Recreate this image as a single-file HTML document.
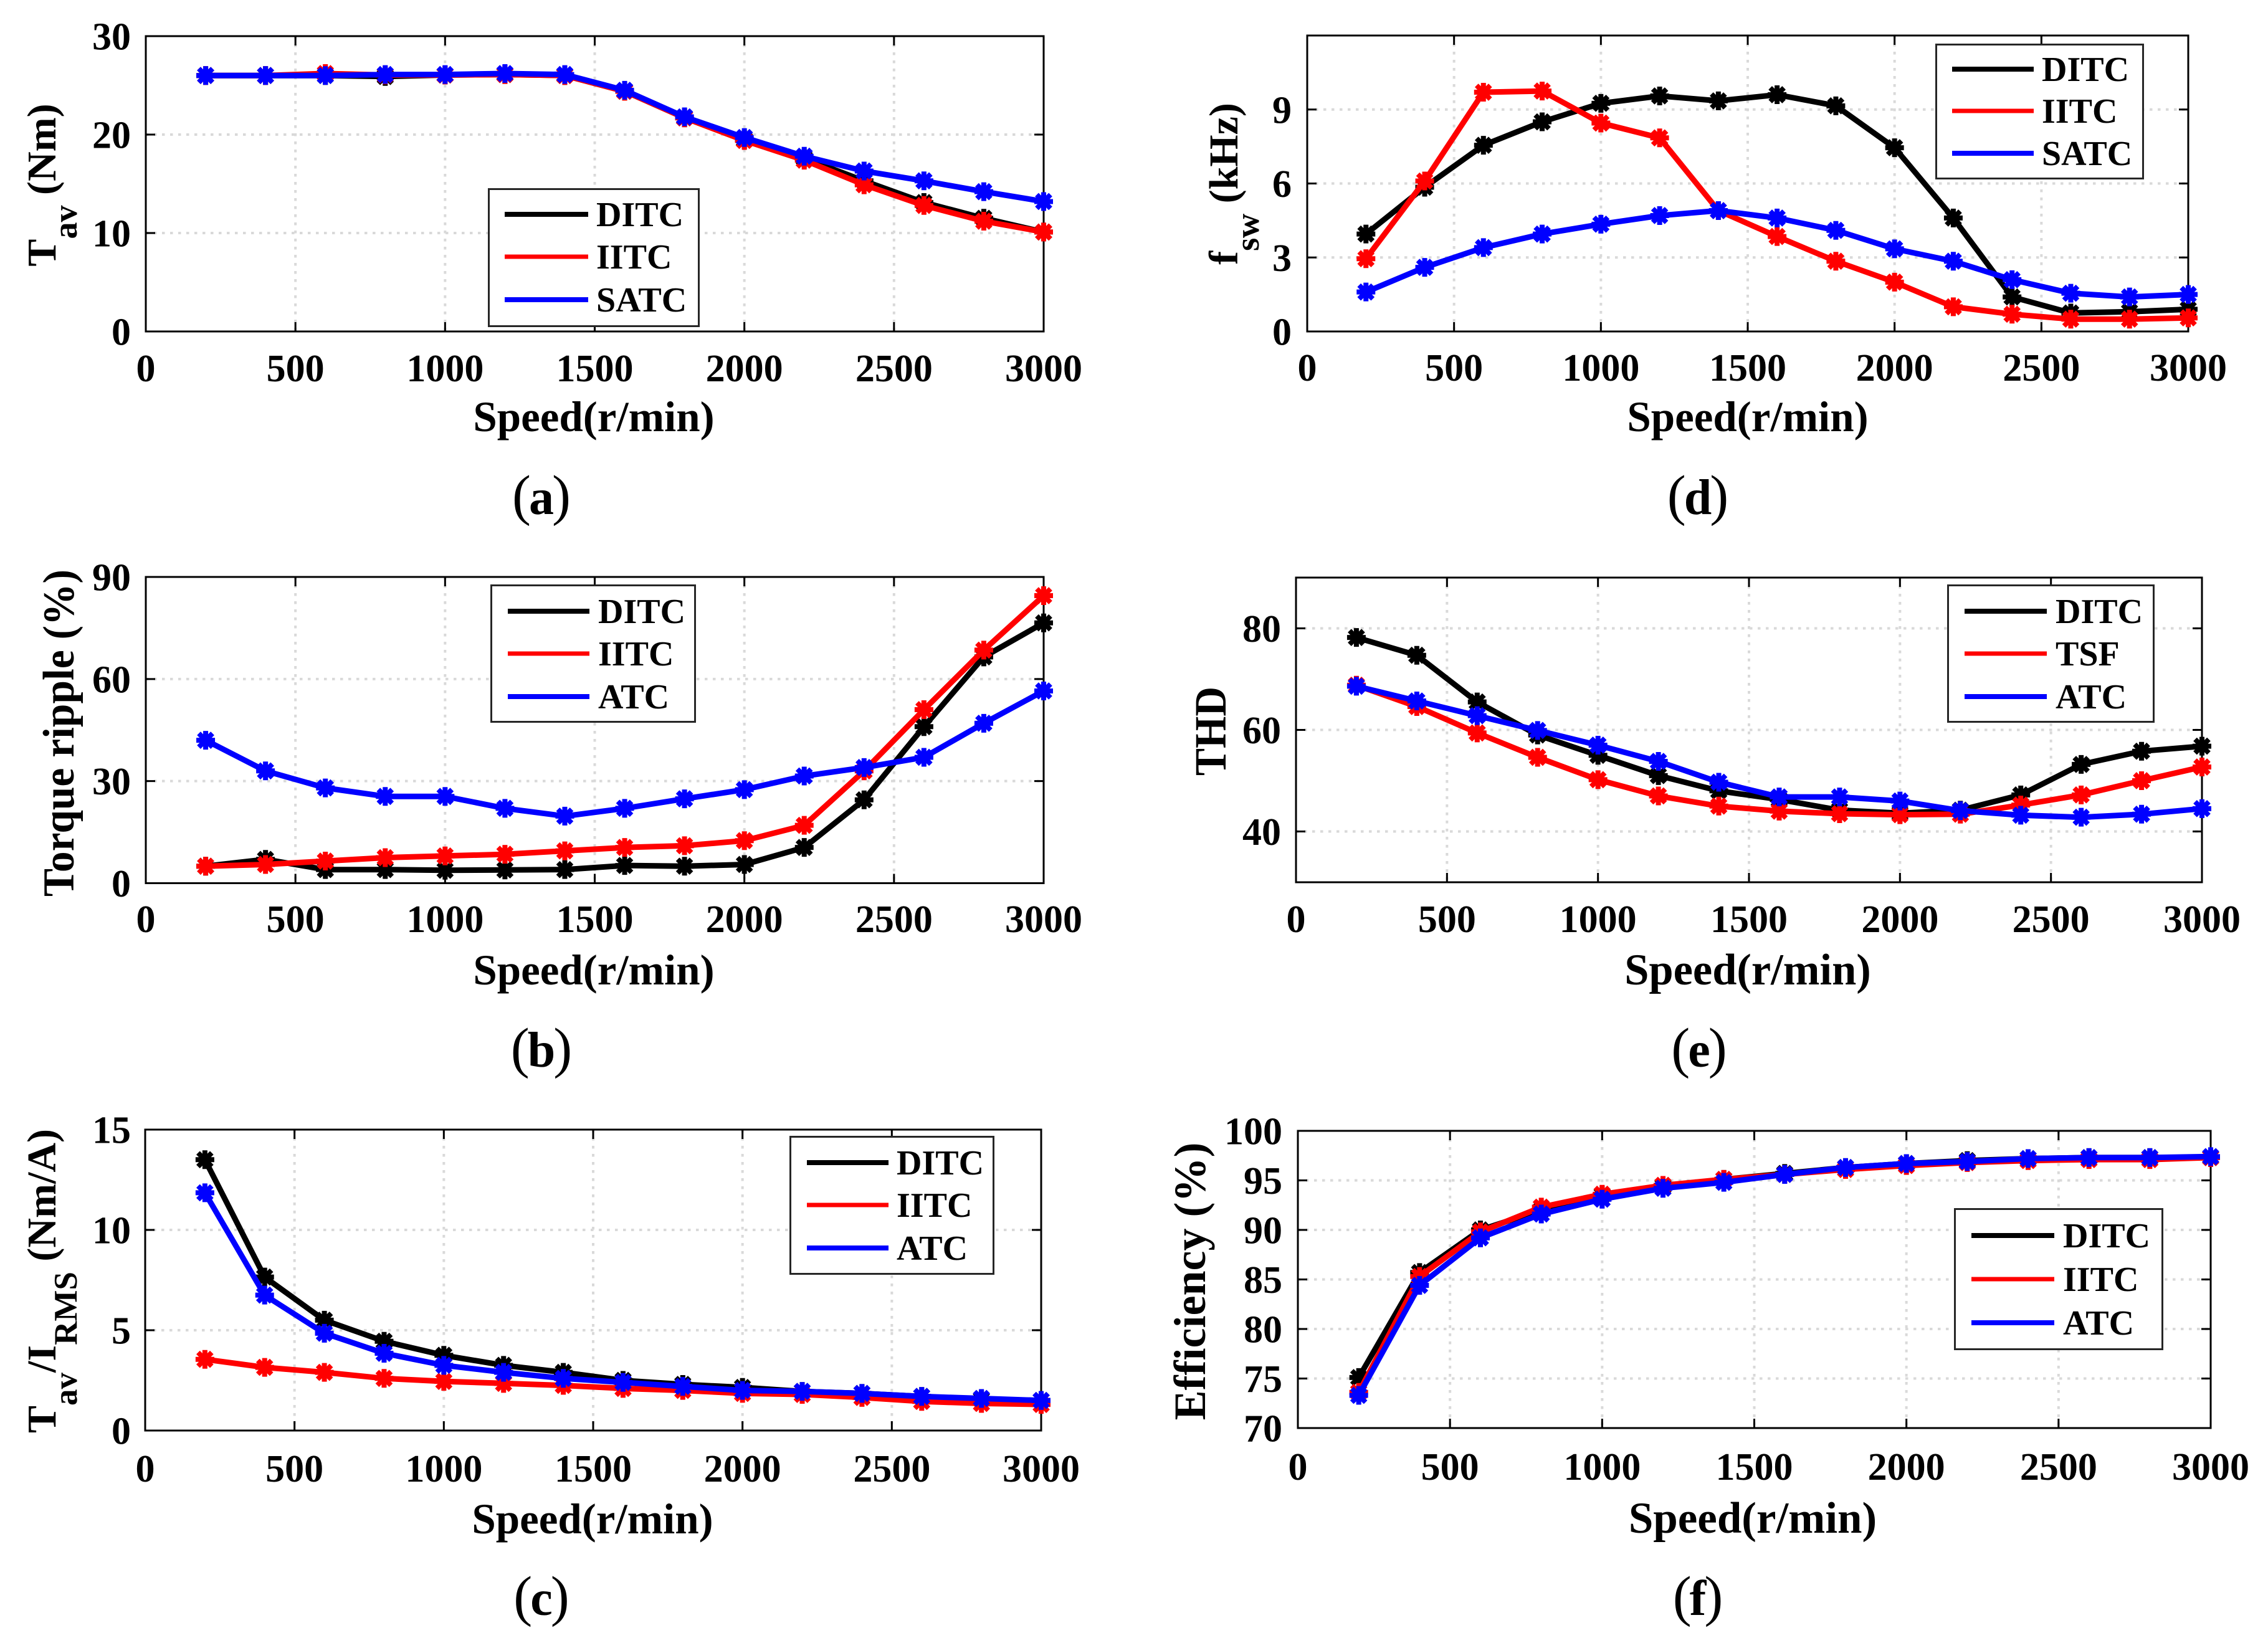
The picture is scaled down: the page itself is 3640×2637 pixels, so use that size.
<!DOCTYPE html>
<html lang="en">
<head>
<meta charset="utf-8">
<title>Speed performance comparison charts</title>
<style>
html,body{margin:0;padding:0;background:#fff;}
svg{display:block;}
text{font-family:"Liberation Serif","Times New Roman",serif;fill:#000;}
.b{font-weight:bold;}
.leg{font-weight:bold;font-size:56px;}
.xl{font-weight:bold;font-size:69px;text-anchor:middle;}
.yl{font-weight:bold;text-anchor:middle;}
.cap{font-size:90px;text-anchor:middle;}
.capl{font-size:80px;font-weight:bold;}
.box{fill:#fff;stroke:#262626;stroke-width:3;}
</style>
</head>
<body>
<svg id="figure" xmlns="http://www.w3.org/2000/svg" width="3640" height="2637" viewBox="0 0 3640 2637">
<rect width="3640" height="2637" fill="#fff"/>

<g>
  <g id="plot-a"></g>
  <text class="yl" font-size="66" transform="translate(89,297) rotate(-90)">T<tspan dy="34" font-size="54">av</tspan><tspan dy="-34">&#160;(Nm)</tspan></text>
  <text class="xl" x="953" y="692">Speed(r/min)</text>
  <text class="cap" x="869" y="825">(<tspan class="capl" dx="-3">a</tspan><tspan dx="-3">)</tspan></text>
  <g>
    <rect class="box" x="784.5" y="303.5" width="337" height="220"/>
    <line x1="810" x2="944" y1="344" y2="344" stroke="#000" stroke-width="8"/>
    <line x1="810" x2="944" y1="412" y2="412" stroke="#f00" stroke-width="7"/>
    <line x1="810" x2="944" y1="481" y2="481" stroke="#00f" stroke-width="8"/>
    <text class="leg" x="957" y="363">DITC</text>
    <text class="leg" x="957" y="431">IITC</text>
    <text class="leg" x="957" y="500">SATC</text>
  </g>
</g>

<g>
  <g id="plot-d"></g>
  <text class="yl" font-size="66" transform="translate(1986,295) rotate(-90)">f<tspan dy="34" font-size="54">sw</tspan><tspan dy="-34">&#160;(kHz)</tspan></text>
  <text class="xl" x="2805" y="692">Speed(r/min)</text>
  <text class="cap" x="2725" y="825">(<tspan class="capl" dx="-3">d</tspan><tspan dx="-3">)</tspan></text>
  <g>
    <rect class="box" x="3107.5" y="71.5" width="332" height="215"/>
    <line x1="3133" x2="3264" y1="111" y2="111" stroke="#000" stroke-width="8"/>
    <line x1="3133" x2="3264" y1="178" y2="178" stroke="#f00" stroke-width="7"/>
    <line x1="3133" x2="3264" y1="246" y2="246" stroke="#00f" stroke-width="8"/>
    <text class="leg" x="3277" y="130">DITC</text>
    <text class="leg" x="3277" y="197">IITC</text>
    <text class="leg" x="3277" y="265">SATC</text>
  </g>
</g>

<g>
  <g id="plot-b"></g>
  <text class="yl" font-size="67.5" transform="translate(118,1176.5) rotate(-90) scale(1,1.05)">Torque ripple (%)</text>
  <text class="xl" x="953" y="1580">Speed(r/min)</text>
  <text class="cap" x="869" y="1712">(<tspan class="capl" dx="-3">b</tspan><tspan dx="-3">)</tspan></text>
  <g>
    <rect class="box" x="788.5" y="939.5" width="327" height="219"/>
    <line x1="815" x2="946" y1="981" y2="981" stroke="#000" stroke-width="8"/>
    <line x1="815" x2="946" y1="1049" y2="1049" stroke="#f00" stroke-width="7"/>
    <line x1="815" x2="946" y1="1118" y2="1118" stroke="#00f" stroke-width="8"/>
    <text class="leg" x="960" y="1000">DITC</text>
    <text class="leg" x="960" y="1068">IITC</text>
    <text class="leg" x="960" y="1137">ATC</text>
  </g>
</g>

<g>
  <g id="plot-e"></g>
  <text class="yl" font-size="66" transform="translate(1967,1173.5) rotate(-90) scale(1,1.09)">THD</text>
  <text class="xl" style="font-size:70.5px" x="2805" y="1580">Speed(r/min)</text>
  <text class="cap" x="2727" y="1712">(<tspan class="capl" dx="-3">e</tspan><tspan dx="-3">)</tspan></text>
  <g>
    <rect class="box" x="3126.5" y="939.5" width="330" height="219"/>
    <line x1="3153" x2="3285" y1="981" y2="981" stroke="#000" stroke-width="8"/>
    <line x1="3153" x2="3285" y1="1049" y2="1049" stroke="#f00" stroke-width="7"/>
    <line x1="3153" x2="3285" y1="1118" y2="1118" stroke="#00f" stroke-width="8"/>
    <text class="leg" x="3299" y="1000">DITC</text>
    <text class="leg" x="3299" y="1068">TSF</text>
    <text class="leg" x="3299" y="1137">ATC</text>
  </g>
</g>

<g>
  <g id="plot-c"></g>
  <text class="yl" font-size="66" transform="translate(89,2056) rotate(-90)">T<tspan dy="34" font-size="53">av</tspan><tspan dy="-34">/I</tspan><tspan dy="34" font-size="53">RMS</tspan><tspan dy="-34">&#160;(Nm/A)</tspan></text>
  <text class="xl" x="951" y="2461">Speed(r/min)</text>
  <text class="cap" x="869" y="2592">(<tspan class="capl" dx="-3">c</tspan><tspan dx="-3">)</tspan></text>
  <g>
    <rect class="box" x="1268.5" y="1824.5" width="326" height="220"/>
    <line x1="1295" x2="1426" y1="1866" y2="1866" stroke="#000" stroke-width="8"/>
    <line x1="1295" x2="1426" y1="1934" y2="1934" stroke="#f00" stroke-width="7"/>
    <line x1="1295" x2="1426" y1="2003" y2="2003" stroke="#00f" stroke-width="8"/>
    <text class="leg" x="1439" y="1885">DITC</text>
    <text class="leg" x="1439" y="1953">IITC</text>
    <text class="leg" x="1439" y="2022">ATC</text>
  </g>
</g>

<g>
  <g id="plot-f"></g>
  <text class="yl" font-size="72" transform="translate(1934,2056.5) rotate(-90)">Efficiency (%)</text>
  <text class="xl" style="font-size:71px" x="2813" y="2460">Speed(r/min)</text>
  <text class="cap" x="2725" y="2592">(<tspan class="capl" dx="-3">f</tspan><tspan dx="-3">)</tspan></text>
  <g>
    <rect class="box" x="3137.5" y="1940.5" width="333" height="225"/>
    <line x1="3164" x2="3297" y1="1983" y2="1983" stroke="#000" stroke-width="8"/>
    <line x1="3164" x2="3297" y1="2053" y2="2053" stroke="#f00" stroke-width="7"/>
    <line x1="3164" x2="3297" y1="2123" y2="2123" stroke="#00f" stroke-width="8"/>
    <text class="leg" x="3311" y="2002">DITC</text>
    <text class="leg" x="3311" y="2072">IITC</text>
    <text class="leg" x="3311" y="2142">ATC</text>
  </g>
</g>
</svg>

<script>
const speeds = [200,400,600,800,1000,1200,1400,1600,1800,2000,2200,2400,2600,2800,3000];
const xTicks = [0,500,1000,1500,2000,2500,3000];

const aYTicks = [0,10,20,30];
const aDitc = [26,26,26,25.9,26.05,26.1,26,24.4,21.7,19.5,17.6,15.3,13.1,11.5,10.1];
const aIitc = [26,26,26.2,26.05,26.05,26.1,26,24.4,21.7,19.4,17.4,14.9,12.8,11.2,10.1];
const aSatc = [26,26,26,26.1,26.1,26.2,26.1,24.5,21.8,19.7,17.8,16.3,15.3,14.2,13.2];

const dYTicks = [0,3,6,9];
const dDitc = [3.95,5.85,7.55,8.5,9.25,9.55,9.35,9.6,9.15,7.45,4.6,1.4,0.75,0.8,0.9];
const dIitc = [2.95,6.1,9.7,9.75,8.45,7.85,4.9,3.85,2.85,2.0,1.0,0.7,0.5,0.5,0.55];
const dSatc = [1.6,2.6,3.4,3.95,4.35,4.7,4.9,4.6,4.1,3.35,2.85,2.1,1.55,1.4,1.5];

const bYTicks = [0,30,60,90];
const bDitc = [5,7,4,4,3.8,3.9,4,5.2,5,5.5,10.5,24.5,46,66.5,76.5];
const bIitc = [5,5.5,6.5,7.5,8,8.5,9.5,10.5,11,12.5,17,33,51,68.5,84.5];
const bAtc = [42,33,28,25.5,25.5,22,19.7,22,24.8,27.5,31.5,34,37,47,56.5];

const eYTicks = [40,60,80];
const eDitc = [78.2,74.7,65.5,59,55,51,48,46.3,44.2,43.6,44.2,47.2,53.2,55.8,56.8];
const eTsf = [68.8,64.6,59.4,54.6,50.2,47,45,44,43.5,43.3,43.4,45.2,47.2,50,52.7];
const eAtc = [68.6,65.7,62.8,59.9,57,53.8,49.7,46.8,46.8,46,44.1,43.2,42.8,43.4,44.5];

const cYTicks = [0,5,10,15];
const cDitc = [13.5,7.65,5.5,4.45,3.75,3.25,2.9,2.5,2.3,2.15,1.95,1.85,1.7,1.55,1.5];
const cIitc = [3.55,3.15,2.9,2.6,2.45,2.35,2.25,2.1,2.0,1.85,1.8,1.65,1.45,1.35,1.3];
const cAtc = [11.85,6.75,4.85,3.85,3.25,2.9,2.6,2.4,2.2,2.0,1.95,1.85,1.7,1.6,1.5];

const fYTicks = [70,75,80,85,90,95,100];
const fDitc = [75.1,85.7,90,92,93.5,94.4,95.1,95.7,96.3,96.7,97,97.2,97.3,97.3,97.3];
const fIitc = [73.6,85.3,89.8,92.3,93.6,94.5,95.1,95.6,96.1,96.5,96.8,97,97.1,97.1,97.3];
const fAtc = [73.3,84.4,89.2,91.6,93.1,94.2,94.8,95.6,96.3,96.7,96.9,97.2,97.3,97.3,97.4];

const NS = 'http://www.w3.org/2000/svg';

function make(parent, tag, attrs, text) {
  const el = document.createElementNS(NS, tag);
  for (const k in attrs) el.setAttribute(k, attrs[k]);
  if (text !== undefined) el.textContent = text;
  parent.appendChild(el);
  return el;
}

function drawPlot(id, box, yMin, yMax, yTicks, labels, series) {
  const root = document.getElementById('plot-' + id);
  const xScale = v => box.left + (v / 3000) * (box.right - box.left);
  const yScale = v => box.bottom - ((v - yMin) / (yMax - yMin)) * (box.bottom - box.top);

  xTicks.forEach(t => {
    const px = xScale(t);
    if (t > 0 && t < 3000) {
      const g = make(root, 'line', {x1: px, x2: px, y1: box.top, y2: box.bottom, stroke: '#d9d9d9', 'stroke-width': 4, 'stroke-dasharray': '4.5 8.5'});
      
      
    }
  });
  yTicks.forEach(t => {
    const py = yScale(t);
    if (t > yMin && t < yMax) {
      const g = make(root, 'line', {x1: box.left, x2: box.right, y1: py, y2: py, stroke: '#d9d9d9', 'stroke-width': 4, 'stroke-dasharray': '4.5 8.5'});
      
      
    }
  });

  const frame = make(root, 'rect', {x: box.left, y: box.top, width: box.right - box.left, height: box.bottom - box.top, fill: 'none', stroke: '#000', 'stroke-width': 3});
  
  

  const TL = 15;
  xTicks.forEach(t => {
    const px = xScale(t);
    const a = make(root, 'path', {d: 'M' + px + ' ' + box.bottom + 'v-' + TL + 'M' + px + ' ' + box.top + 'v' + TL, stroke: '#000', 'stroke-width': 3, fill: 'none'});
    
    
    const lab = make(root, 'text', {x: px, y: labels.xBase, 'text-anchor': 'middle', 'font-size': labels.size, 'font-weight': 'bold'}, String(t));
    
    
  });
  yTicks.forEach(t => {
    const py = yScale(t);
    const a = make(root, 'path', {d: 'M' + box.left + ' ' + py + 'h' + TL + 'M' + box.right + ' ' + py + 'h-' + TL, stroke: '#000', 'stroke-width': 3, fill: 'none'});
    
    
    const lab = make(root, 'text', {x: labels.yRight, y: py + 21.5, 'text-anchor': 'end', 'font-size': labels.size, 'font-weight': 'bold'}, String(t));
    
    
  });

  series.forEach(s => {
    const g = make(root, 'g', {});
    
    
    const pts = s.values.map((v, i) => xScale(speeds[i]).toFixed(1) + ',' + yScale(v).toFixed(1)).join(' ');
    const line = make(g, 'polyline', {points: pts, fill: 'none', stroke: s.color, 'stroke-width': 9, 'stroke-linejoin': 'miter'});
    
    
    s.values.forEach((v, i) => {
      const cx = xScale(speeds[i]);
      const cy = yScale(v);
      const r = 15;
      const q = 11;
      const d = 'M' + (cx - r) + ' ' + cy + 'H' + (cx + r) +
                'M' + cx + ' ' + (cy - r) + 'V' + (cy + r) +
                'M' + (cx - q) + ' ' + (cy - q) + 'L' + (cx + q) + ' ' + (cy + q) +
                'M' + (cx - q) + ' ' + (cy + q) + 'L' + (cx + q) + ' ' + (cy - q);
      const m = make(g, 'path', {d: d, fill: 'none', stroke: s.color, 'stroke-width': 8});
      
      
    });
  });
}

drawPlot('a', {left:234,right:1675,top:58,bottom:532}, 0, 30, aYTicks, {xBase:612,yRight:210,size:62},
  [{name:'ditc',color:'#000',values:aDitc},{name:'iitc',color:'#f00',values:aIitc},{name:'satc',color:'#00f',values:aSatc}]);
drawPlot('d', {left:2098,right:3512,top:57,bottom:532}, 0, 12, dYTicks, {xBase:611,yRight:2073,size:62},
  [{name:'ditc',color:'#000',values:dDitc},{name:'iitc',color:'#f00',values:dIitc},{name:'satc',color:'#00f',values:dSatc}]);
drawPlot('b', {left:234,right:1675,top:926,bottom:1417.5}, 0, 90, bYTicks, {xBase:1496,yRight:210,size:62},
  [{name:'ditc',color:'#000',values:bDitc},{name:'iitc',color:'#f00',values:bIitc},{name:'atc',color:'#00f',values:bAtc}]);
drawPlot('e', {left:2080,right:3534,top:927,bottom:1416}, 30, 90, eYTicks, {xBase:1496,yRight:2056,size:62},
  [{name:'ditc',color:'#000',values:eDitc},{name:'tsf',color:'#f00',values:eTsf},{name:'atc',color:'#00f',values:eAtc}]);
drawPlot('c', {left:233,right:1671,top:1813,bottom:2296}, 0, 15, cYTicks, {xBase:2378,yRight:210,size:62},
  [{name:'ditc',color:'#000',values:cDitc},{name:'iitc',color:'#f00',values:cIitc},{name:'atc',color:'#00f',values:cAtc}]);
drawPlot('f', {left:2083,right:3548,top:1815,bottom:2292}, 70, 100, fYTicks, {xBase:2375,yRight:2058,size:62},
  [{name:'ditc',color:'#000',values:fDitc},{name:'iitc',color:'#f00',values:fIitc},{name:'atc',color:'#00f',values:fAtc}]);
</script>
</body>
</html>
